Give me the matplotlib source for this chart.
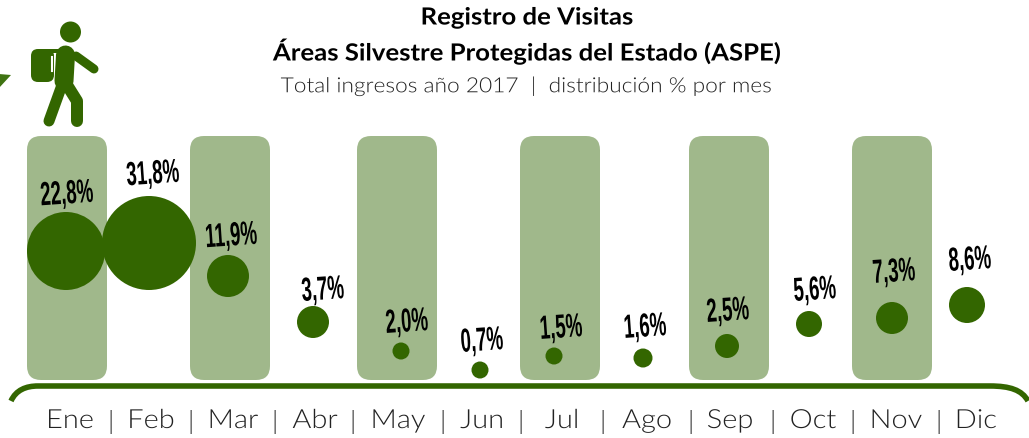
from matplotlib import pyplot as plt
from matplotlib.patches import Circle, FancyBboxPatch, PathPatch, Polygon
from matplotlib.patheffects import AbstractPathEffect
from matplotlib.path import Path
from matplotlib.transforms import Affine2D

# data
months = ['Ene', 'Feb', 'Mar', 'Abr', 'May', 'Jun', 'Jul', 'Ago', 'Sep', 'Oct', 'Nov', 'Dic']
values = ['22,8%', '31,8%', '11,9%', '3,7%', '2,0%', '0,7%', '1,5%', '1,6%', '2,5%', '5,6%', '7,3%', '8,6%']
bubble_x = [66, 149, 228, 313, 401, 480, 554, 643, 727, 809, 892, 967]
bubble_y = [252, 244, 277, 323, 352, 371, 357, 359, 347, 325, 319, 306]
bubble_r = [39, 47, 21, 16, 8.5, 8.5, 8.5, 9.5, 12, 13, 16, 18]
label_x = [67, 153, 231, 323, 407, 482, 561, 645, 728, 815, 894, 970]
label_y = [196, 176, 238, 292, 324, 343, 330, 329, 313, 292, 274, 262]
month_x = [70, 151, 233, 315, 398, 482, 562, 647, 730, 813, 896, 976]
sep_x = [110, 191, 275, 353, 443, 520, 602, 690, 772, 853, 938]
band_left = [27, 190, 357, 520, 689, 852]

dark = '#336600'
light = '#A0B88B'
title_font = ['Lato', 'DejaVu Sans']
label_font = ['Liberation Sans', 'DejaVu Sans']


class Squeeze(AbstractPathEffect):
    # scales the glyphs sideways about the middle of the string
    def __init__(self, sx):
        super().__init__()
        self.sx = sx

    def draw_path(self, renderer, gc, tpath, affine, rgbFace=None):
        box = tpath.get_extents()
        cx = (box.x0 + box.x1) / 2
        scaled = Affine2D().translate(-cx, 0).scale(self.sx, 1).translate(cx, 0) + affine
        renderer.draw_path(gc, tpath, scaled, rgbFace)


fig = plt.figure(figsize=(10.29, 4.39), dpi=100)
ax = fig.add_axes([0, 0, 1, 1])
ax.set_xlim(0, 1029)
ax.set_ylim(439, 0)
ax.axis('off')


def limb(xs, ys, width):
    ax.plot(xs, ys, color=dark, linewidth=width * 0.72, solid_capstyle='round',
            solid_joinstyle='round', zorder=3)


# background bands
for left in band_left:
    ax.add_patch(FancyBboxPatch((left + 14, 151), 52, 216, boxstyle='round,pad=14,rounding_size=14',
                                facecolor=light, edgecolor='none', zorder=1))

# bubbles and labels
for i in range(len(months)):
    ax.add_patch(Circle((bubble_x[i], bubble_y[i]), bubble_r[i], facecolor=dark,
                        edgecolor='none', zorder=2))
    ax.text(label_x[i], label_y[i], values[i], ha='center', va='center', fontsize=24,
            fontweight='bold', family=label_font, color='black', rotation=4, zorder=4,
            path_effects=[Squeeze(0.56)])

# baseline with curved ends
base = Path([(11, 402), (16, 391), (26, 387), (38, 387), (990, 387), (1010, 387), (1022, 391), (1028, 402)],
            [Path.MOVETO, Path.CURVE4, Path.CURVE4, Path.CURVE4, Path.LINETO, Path.CURVE4, Path.CURVE4, Path.CURVE4])
ax.add_patch(PathPatch(base, facecolor='none', edgecolor=dark, linewidth=4, capstyle='butt', zorder=3))

# month axis
for x, name in zip(month_x, months):
    ax.text(x, 422, name, ha='center', va='center', fontsize=19, fontweight=300,
            family=title_font, color='#222222', path_effects=[Squeeze(1.1)])
for x in sep_x:
    ax.text(x, 422, '|', ha='center', va='center', fontsize=19, fontweight=300,
            family=title_font, color='#222222')

# titles
ax.text(527, 18, 'Registro de Visitas', ha='center', va='center', fontsize=17,
        fontweight='bold', family=title_font, color='black', path_effects=[Squeeze(1.09)])
ax.text(527, 52, 'Áreas Silvestre Protegidas del Estado (ASPE)', ha='center', va='center',
        fontsize=17, fontweight='bold', family=title_font, color='black', path_effects=[Squeeze(1.09)])
ax.text(527, 87, 'Total ingresos año 2017  |  distribución % por mes', ha='center', va='center',
        fontsize=15, fontweight=300, family=title_font, color='#222222', path_effects=[Squeeze(1.09)])

# hiker
ax.add_patch(Circle((70.5, 33), 10.5, facecolor=dark, edgecolor='none', zorder=3))
ax.add_patch(FancyBboxPatch((37, 56), 11, 21, boxstyle='round,pad=6,rounding_size=7',
                            facecolor=dark, edgecolor='none', zorder=3))
limb([46, 60], [52, 52], 4)
limb([65.5, 64], [56, 82], 19)
limb([76, 94], [57, 70], 9)
limb([62, 49], [86, 122], 11)
limb([67, 77, 77], [86, 102, 122], 12)
ax.plot([52, 52], [58, 72], color='white', linewidth=1.5, zorder=3.5)

# small arrow tip on the left edge
ax.add_patch(Polygon([(-1, 75), (11, 76), (-1, 89)], closed=True, facecolor='#3F7312', edgecolor='none'))

fig.savefig('out.png', dpi=100)
